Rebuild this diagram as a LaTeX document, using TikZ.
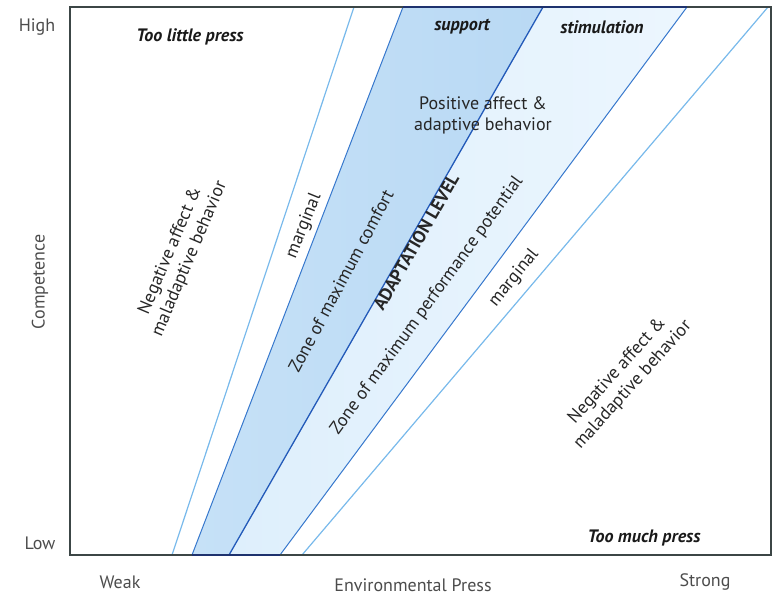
\documentclass[tikz,border=0pt]{standalone}
\usepackage{fontspec}
\setmainfont{PT Sans}
\definecolor{comfortfill}{RGB}{198,225,247}
\definecolor{comfortdeep}{RGB}{185,217,244}
\definecolor{perffill}{RGB}{222,239,252}
\definecolor{perfpale}{RGB}{236,246,254}
\definecolor{zoneedge}{RGB}{55,120,205}
\definecolor{adaptline}{RGB}{35,90,185}
\definecolor{margline}{RGB}{120,185,235}
\definecolor{boxline}{RGB}{60,70,70}
\definecolor{zonerim}{RGB}{30,50,110}
\begin{document}
\begin{tikzpicture}[
	x=1pt, y=-1pt,
	lbl/.style={ inner sep=0pt, align=center, text=black!85, font=\fontsize{18}{21}\selectfont },
	axislbl/.style={ inner sep=0pt, text=black!70, font=\fontsize{18}{21}\selectfont },
	boldlbl/.style={ inner sep=0pt, text=black!90, font=\fontsize{18}{21}\selectfont\bfseries\itshape },
	marg/.style={ margline, line width=1.2pt },
	edge/.style={ zoneedge, line width=1pt }
]

\useasboundingbox (0,0) rectangle (778,597);

% corners of the frame and ends of the bands
\coordinate (tl) at (70,7);
\coordinate (br) at (771,555);
\coordinate (lm-b) at (172,555); \coordinate (lm-t) at (354,7);
\coordinate (ce-b) at (192,555); \coordinate (ce-t) at (403,7);
\coordinate (al-b) at (229,555); \coordinate (al-t) at (543,7);
\coordinate (pe-b) at (280,555); \coordinate (pe-t) at (687,7);
\coordinate (rm-b) at (302,555); \coordinate (rm-t) at (768,7);

\shade[left color=comfortfill, right color=comfortdeep]
  (ce-b) -- (ce-t) -- (al-t) -- (al-b) -- cycle;
\shade[left color=perffill, right color=perfpale]
  (al-b) -- (al-t) -- (pe-t) -- (pe-b) -- cycle;

\draw[marg] (lm-b) to (lm-t);
\draw[marg] (rm-b) to (rm-t);
\draw[edge] (ce-b) to (ce-t);
\draw[edge] (pe-b) to (pe-t);
\draw[adaptline, line width=1.3pt] (al-b) to (al-t);

\draw[boxline, line width=1.3pt] (tl) rectangle (br);
\draw[zonerim, line width=1.8pt] (ce-t) to (pe-t);
\draw[zonerim, line width=1.5pt] (ce-b) to (pe-b);

% axes
\node[axislbl] (high) at (37,27) {High};
\node[axislbl] (low) at (40,543) {Low};
\node[axislbl, rotate=90] (comp) at (40,282) {Competence};
\node[axislbl] (weak) at (120,582) {Weak};
\node[axislbl] (envpress) at (413,585) {Environmental Press};
\node[axislbl] (strong) at (705,582) {Strong};

% regions
\node[boldlbl] (toolittle) at (190,37) {Too little press};
\node[boldlbl] (toomuch) at (644,538) {Too much press};
\node[boldlbl] (support) at (462,27) {support};
\node[boldlbl] (stim) at (602,27) {stimulation};
\node[lbl] (posaff) at (483,115) {Positive affect \&\\adaptive behavior};
\node[lbl, rotate=67] (negleft) at (180,255) {Negative affect \&\\maladaptive behavior};
\node[lbl, rotate=68] (margleft) at (304,226) {marginal};
\node[lbl, rotate=62] (comfort) at (341,281) {Zone of maximum comfort};
\node[lbl, rotate=60, font=\fontsize{18}{21}\selectfont\bfseries] (adapt) at (416,242) {ADAPTATION LEVEL};
\node[lbl, rotate=54] (perf) at (427,306) {Zone of maximum performance potential};
\node[lbl, rotate=51] (margright) at (514,278) {marginal};
\node[lbl, rotate=48] (negright) at (625,378) {Negative affect \&\\maladaptive behavior};

\end{tikzpicture}
\end{document}
